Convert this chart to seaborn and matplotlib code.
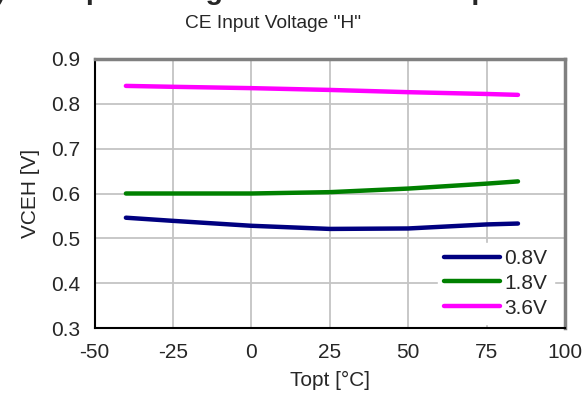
import matplotlib
matplotlib.use("Agg")
import matplotlib.pyplot as plt
import pandas as pd
import seaborn as sns

# values
temps = [-40, -25, 0, 25, 50, 75, 85]
v_08 = [0.546, 0.539, 0.528, 0.521, 0.522, 0.531, 0.533]
v_18 = [0.600, 0.600, 0.600, 0.603, 0.611, 0.622, 0.627]
v_36 = [0.840, 0.838, 0.835, 0.831, 0.826, 0.822, 0.820]
labels = ["0.8V", "1.8V", "3.6V"]
colors = ["#000080", "#008000", "#FF00FF"]

x_ticks = [-50, -25, 0, 25, 50, 75, 100]
y_ticks = [0.3, 0.4, 0.5, 0.6, 0.7, 0.8, 0.9]

df = pd.DataFrame({
    "Topt": temps * 3,
    "VCEH": v_08 + v_18 + v_36,
    "series": [labels[0]] * len(temps) + [labels[1]] * len(temps) + [labels[2]] * len(temps),
})

sns.set_style("white")
plt.rcParams["font.family"] = ["Liberation Sans", "DejaVu Sans"]

fig = plt.figure(figsize=(5.86, 4.03), dpi=100)
ax = fig.add_axes([0.1613, 0.1861, 0.8029, 0.6675])

sns.lineplot(data=df, x="Topt", y="VCEH", hue="series", palette=colors,
             linewidth=3.2, ax=ax, solid_capstyle="round")

ax.set_xlim(-50, 100)
ax.set_ylim(0.3, 0.9)
ax.set_xticks(x_ticks)
ax.set_yticks(y_ticks)
ax.set_xticklabels([str(t) for t in x_ticks])
ax.set_yticklabels([f"{t:.1f}" for t in y_ticks])
ax.grid(True, color="#c4c4c4", linewidth=1.3)
ax.set_axisbelow(True)

ax.tick_params(axis="both", direction="in", length=5, width=1.2, color="black",
               labelsize=15, top=False, right=False)
ax.tick_params(axis="x", pad=11)
ax.tick_params(axis="y", pad=10)

for side in ["left", "bottom"]:
    ax.spines[side].set_color("black")
    ax.spines[side].set_linewidth(1.5)
for side in ["top", "right"]:
    ax.spines[side].set_color("#808080")
    ax.spines[side].set_linewidth(2.5)

ax.set_xlabel("Topt [°C]", fontsize=15, labelpad=6)
ax.set_ylabel("VCEH [V]", fontsize=15, labelpad=8)

leg = ax.legend(loc="lower right", bbox_to_anchor=(0.985, 0.0), frameon=True,
                fontsize=15, handlelength=2.7, handletextpad=0.2,
                labelspacing=0.28, borderaxespad=0.2, borderpad=0.3,
                fancybox=False)
leg.get_frame().set_edgecolor("white")
leg.get_frame().set_facecolor("white")
leg.get_frame().set_alpha(1)
for line in leg.get_lines():
    line.set_linewidth(3.2)

fig.text(273 / 586, 1 - 24 / 403, 'CE Input Voltage "H"', ha="center",
         va="center", fontsize=13.8)
# heading of the page, cut off by the top edge
fig.text(-20 / 586, 1 + 1 / 403, "7) CE Input Voltage vs. Ambient Temperature",
         ha="left", va="baseline", fontsize=20.5, fontweight="bold")

fig.savefig("out.png", dpi=100)
